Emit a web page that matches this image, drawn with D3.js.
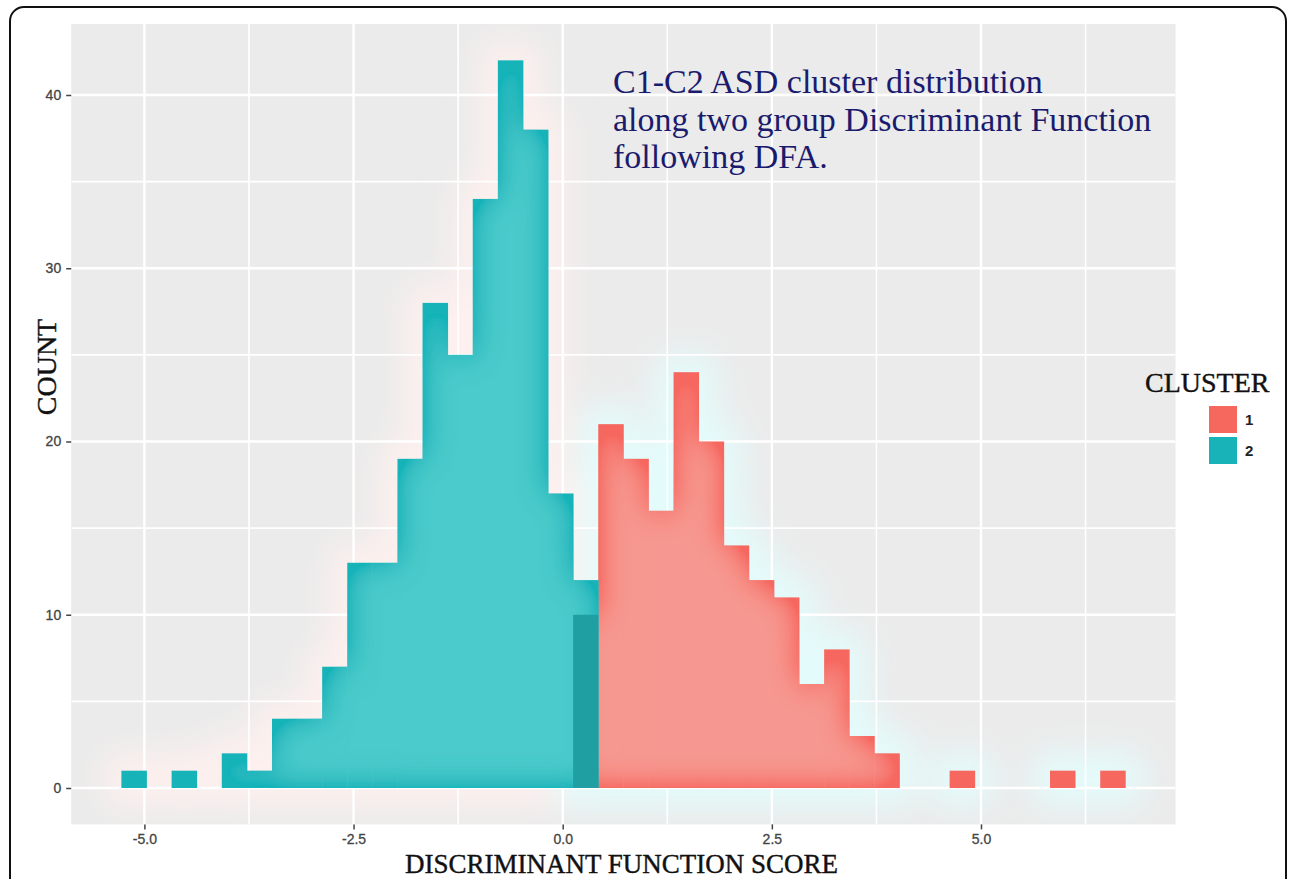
<!DOCTYPE html>
<html>
<head>
<meta charset="utf-8">
<script src="https://cdn.jsdelivr.net/npm/d3@7"></script>
<style>
  body { margin: 0; background: #fff; }
  svg { display: block; }
</style>
</head>
<body>
<svg id="chart" width="1293" height="879"></svg>
<script>
// histogram bins (lower edge) and counts
let cluster2Bins = [-5.275, -4.675, -4.075, -3.775, -3.475, -3.175, -2.875, -2.575, -2.275,
                    -1.975, -1.675, -1.375, -1.075, -0.775, -0.475, -0.175, 0.125]
let cluster2Counts = [1, 1, 2, 1, 4, 4, 7, 13, 13, 19, 28, 25, 34, 42, 38, 17, 12]

let cluster1Bins = [0.125, 0.425, 0.725, 1.025, 1.325, 1.625, 1.925, 2.225, 2.525, 2.825,
                    3.125, 3.425, 3.725, 4.625, 5.825, 6.425]
let cluster1Counts = [10, 21, 19, 16, 24, 20, 14, 12, 11, 6, 8, 3, 2, 1, 1, 1]

let binWidth = 0.3
let xTicks = [-5, -2.5, 0, 2.5, 5]
let xMinor = [-3.75, -1.25, 1.25, 3.75, 6.25]
let yTicks = [0, 10, 20, 30, 40]
let yMinor = [5, 15, 25, 35]
let clusterNames = ['1', '2']
let clusterColors = ['#f6675e', '#17b3b9']
let noteLines = ['C1-C2 ASD cluster distribution', 'along two group Discriminant Function', 'following DFA.']

let svg = d3.select('#chart')

let x = d3.scaleLinear().domain([-5, 5]).range([144.4, 981])
let y = d3.scaleLinear().domain([0, 40]).range([788, 95])
let xLim = [-5.875, 7.325]
let yLim = [-2.1, 44.1]

let toRows = (bins, counts) => bins.map((b, i) => ({ x0: b, x1: b + binWidth, n: counts[i] }))
let c1 = toRows(cluster1Bins, cluster1Counts)
let c2 = toRows(cluster2Bins, cluster2Counts)

// bins where both clusters have counts
let overlap = c1.filter(d => c2.some(e => e.x0 === d.x0)).map(d => {
    let other = c2.find(e => e.x0 === d.x0)
    return { x0: d.x0, x1: d.x1, n: Math.min(d.n, other.n) }
})

let defs = svg.append('defs')

let innerLight = (id, color) => {
    let f = defs.append('filter').attr('id', id)
        .attr('filterUnits', 'userSpaceOnUse')
        .attr('x', 0).attr('y', 0).attr('width', 1293).attr('height', 879)
    f.append('feGaussianBlur').attr('in', 'SourceAlpha').attr('stdDeviation', 16).attr('result', 'b')
    f.append('feComponentTransfer').attr('in', 'b').attr('result', 'b2')
        .append('feFuncA').attr('type', 'linear').attr('slope', 1.6).attr('intercept', -0.7)
    f.append('feFlood').attr('flood-color', color).attr('result', 'fl')
    f.append('feComposite').attr('in', 'fl').attr('in2', 'b2').attr('operator', 'in').attr('result', 'l')
    f.append('feComposite').attr('in', 'l').attr('in2', 'SourceAlpha').attr('operator', 'in').attr('result', 'inner')
    let m = f.append('feMerge')
    m.append('feMergeNode').attr('in', 'SourceGraphic')
    m.append('feMergeNode').attr('in', 'inner')
}
innerLight('lightTeal', '#4fcdcd')
innerLight('lightRed', '#f69d95')

defs.append('filter').attr('id', 'halo')
    .attr('filterUnits', 'userSpaceOnUse')
    .attr('x', 0).attr('y', 0).attr('width', 1293).attr('height', 879)
    .append('feGaussianBlur').attr('stdDeviation', 16)

defs.append('clipPath').attr('id', 'panelClip')
    .append('rect')
    .attr('x', x(xLim[0])).attr('y', y(yLim[1]))
    .attr('width', x(xLim[1]) - x(xLim[0]))
    .attr('height', y(yLim[0]) - y(yLim[1]))

// outer rounded frame
svg.append('rect')
    .attr('x', 10).attr('y', 7).attr('width', 1276).attr('height', 920)
    .attr('rx', 14)
    .attr('fill', 'none').attr('stroke', '#111').attr('stroke-width', 2)

// panel
svg.append('rect')
    .attr('x', x(xLim[0])).attr('y', y(yLim[1]))
    .attr('width', x(xLim[1]) - x(xLim[0]))
    .attr('height', y(yLim[0]) - y(yLim[1]))
    .attr('fill', '#ebebeb')

let panel = svg.append('g').attr('clip-path', 'url(#panelClip)')

// soft colour halos around the bars
let haloG = panel.append('g').attr('filter', 'url(#halo)')
let drawHalo = (rows, color) => {
    haloG.append('g').selectAll('rect')
        .data(rows)
        .enter()
        .append('rect')
        .attr('x', d => x(d.x0))
        .attr('y', d => y(d.n))
        .attr('width', d => x(d.x1) - x(d.x0))
        .attr('height', d => y(0) - y(d.n))
        .attr('fill', color)
        .attr('stroke', color)
        .attr('stroke-width', 36)
        .attr('stroke-linejoin', 'round')
}
drawHalo(c2, '#fdf0ee')
drawHalo(c1, '#e4fbfb')

// grid
panel.selectAll('.minor-x')
    .data(xMinor)
    .enter()
    .append('line')
    .attr('x1', d => x(d)).attr('x2', d => x(d))
    .attr('y1', y(yLim[0])).attr('y2', y(yLim[1]))
    .attr('stroke', '#fff').attr('stroke-width', 1.6)
panel.selectAll('.minor-y')
    .data(yMinor)
    .enter()
    .append('line')
    .attr('y1', d => y(d)).attr('y2', d => y(d))
    .attr('x1', x(xLim[0])).attr('x2', x(xLim[1]))
    .attr('stroke', '#fff').attr('stroke-width', 1.6)
panel.selectAll('.major-x')
    .data(xTicks)
    .enter()
    .append('line')
    .attr('x1', d => x(d)).attr('x2', d => x(d))
    .attr('y1', y(yLim[0])).attr('y2', y(yLim[1]))
    .attr('stroke', '#fff').attr('stroke-width', 2.4)
panel.selectAll('.major-y')
    .data(yTicks)
    .enter()
    .append('line')
    .attr('y1', d => y(d)).attr('y2', d => y(d))
    .attr('x1', x(xLim[0])).attr('x2', x(xLim[1]))
    .attr('stroke', '#fff').attr('stroke-width', 2.4)

// bars
let drawBars = (rows, color, filterId) => {
    panel.append('g').attr('filter', 'url(#' + filterId + ')')
        .selectAll('rect')
        .data(rows)
        .enter()
        .append('rect')
        .attr('x', d => x(d.x0))
        .attr('y', d => y(d.n))
        .attr('width', d => x(d.x1) - x(d.x0) + 0.4)
        .attr('height', d => y(0) - y(d.n))
        .attr('fill', color)
}
drawBars(c1, clusterColors[0], 'lightRed')
drawBars(c2, clusterColors[1], 'lightTeal')

panel.append('g').selectAll('rect')
    .data(overlap)
    .enter()
    .append('rect')
    .attr('x', d => x(d.x0))
    .attr('y', d => y(d.n))
    .attr('width', d => x(d.x1) - x(d.x0))
    .attr('height', d => y(0) - y(d.n))
    .attr('fill', '#1f9fa2')

// axes
let fmt = d => d.toFixed(1)
let xAxis = svg.append('g')
    .attr('transform', 'translate(0,' + y(yLim[0]) + ')')
    .call(d3.axisBottom(x).tickValues(xTicks).tickFormat(fmt).tickSize(5).tickPadding(5))
let yAxis = svg.append('g')
    .attr('transform', 'translate(' + x(xLim[0]) + ',0)')
    .call(d3.axisLeft(y).tickValues(yTicks).tickSize(5).tickPadding(5))

;[xAxis, yAxis].forEach(ax => {
    ax.select('.domain').remove()
    ax.selectAll('.tick line').attr('stroke', '#444').attr('stroke-width', 1.5)
    ax.selectAll('.tick text')
        .attr('fill', '#444')
        .attr('stroke', '#444').attr('stroke-width', 0.3)
        .style('font-family', '"Liberation Sans", Arial, sans-serif')
        .style('font-size', '14px')
})

let serif = '"Liberation Serif", "Times New Roman", serif'

// axis titles
svg.append('text')
    .attr('x', 405).attr('y', 873)
    .style('font-family', serif)
    .style('font-size', '27px')
    .attr('fill', '#111').attr('stroke', '#111').attr('stroke-width', 0.4)
    .text('DISCRIMINANT FUNCTION SCORE')

svg.append('text')
    .attr('transform', 'translate(56,367) rotate(-90)')
    .attr('text-anchor', 'middle')
    .style('font-family', serif)
    .style('font-size', '28px')
    .attr('fill', '#111').attr('stroke', '#111').attr('stroke-width', 0.4)
    .text('COUNT')

// annotation in the panel
svg.append('g').selectAll('text')
    .data(noteLines)
    .enter()
    .append('text')
    .attr('x', 613)
    .attr('y', (d, i) => 93 + i * 37.5)
    .style('font-family', serif)
    .style('font-size', '34px')
    .attr('fill', '#1b1b6e')
    .text(d => d)

// legend
let legend = svg.append('g')
legend.append('text')
    .attr('x', 1145).attr('y', 392)
    .style('font-family', serif)
    .style('font-size', '28px')
    .attr('fill', '#111').attr('stroke', '#111').attr('stroke-width', 0.4)
    .text('CLUSTER')

let keys = legend.selectAll('.key')
    .data(clusterNames)
    .enter()
    .append('g')
    .attr('transform', (d, i) => 'translate(1209,' + (406 + i * 31) + ')')
keys.append('rect')
    .attr('width', 28).attr('height', 27)
    .attr('fill', (d, i) => clusterColors[i])
keys.append('text')
    .attr('x', 36).attr('y', 14).attr('dy', '0.35em')
    .style('font-family', '"Liberation Sans", Arial, sans-serif')
    .style('font-size', '15px')
    .style('font-weight', 'bold')
    .attr('fill', '#222')
    .text(d => d)
</script>
</body>
</html>
